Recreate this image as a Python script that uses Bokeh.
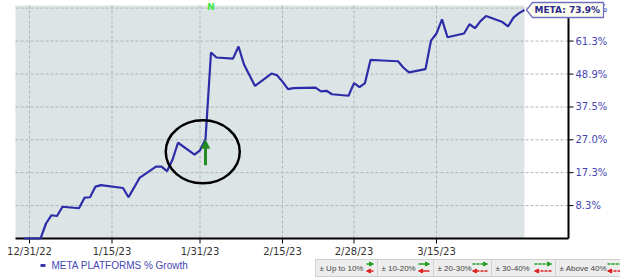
import math
import pandas as pd
from bokeh.plotting import figure
from bokeh.models import Range1d, BoxAnnotation, Arrow, NormalHead, ColumnDataSource
from bokeh.core.properties import value
from bokeh.embed import file_html
from bokeh.resources import INLINE

# ---------------- data ----------------
dates = ["2022-12-30", "2023-01-02", "2023-01-03", "2023-01-04", "2023-01-05", "2023-01-06",
         "2023-01-09", "2023-01-10", "2023-01-11", "2023-01-12", "2023-01-13", "2023-01-17",
         "2023-01-18", "2023-01-19", "2023-01-20", "2023-01-23", "2023-01-24", "2023-01-25",
         "2023-01-26", "2023-01-27", "2023-01-30", "2023-01-31", "2023-02-01", "2023-02-02",
         "2023-02-03", "2023-02-06", "2023-02-07", "2023-02-08", "2023-02-09", "2023-02-10",
         "2023-02-13", "2023-02-14", "2023-02-15", "2023-02-16", "2023-02-17", "2023-02-21",
         "2023-02-22", "2023-02-23", "2023-02-24", "2023-02-27", "2023-02-28", "2023-03-01",
         "2023-03-02", "2023-03-03", "2023-03-06", "2023-03-07", "2023-03-08", "2023-03-09",
         "2023-03-10", "2023-03-13", "2023-03-14", "2023-03-15", "2023-03-16", "2023-03-17",
         "2023-03-20", "2023-03-21", "2023-03-22", "2023-03-23", "2023-03-24", "2023-03-27",
         "2023-03-28", "2023-03-29", "2023-03-30", "2023-03-31"]
growth_pct = [0.0, 0.0, 3.7, 5.8, 5.6, 8.0,
              7.6, 10.4, 10.5, 13.4, 13.8, 13.0,
              10.5, 13.1, 15.8, 19.0, 19.0, 17.7,
              21.0, 26.1, 22.5, 23.8, 27.2, 56.9,
              55.0, 54.6, 59.2, 52.4, 48.5, 44.7,
              49.1, 48.5, 46.2, 43.6, 43.9, 44.1,
              42.8, 43.0, 41.8, 41.3, 45.7, 44.3,
              45.7, 54.1, 53.8, 53.7, 53.6, 51.2,
              49.5, 50.7, 61.5, 64.3, 70.0, 62.8,
              64.3, 68.0, 66.4, 69.3, 71.4, 68.9,
              67.1, 70.7, 72.6, 73.9]

x_tick_dates = ["2022-12-31", "2023-01-15", "2023-01-31", "2023-02-15", "2023-02-28", "2023-03-15"]
x_tick_labels = ["12/31/22", "1/15/23", "1/31/23", "2/15/23", "2/28/23", "3/15/23"]
y_tick_pct = [8.3, 17.3, 27.0, 37.5, 48.9, 61.3, 74.7]
y_tick_labels = ["8.3%", "17.3%", "27.0%", "37.5%", "48.9%", "61.3%", "74.7%"]

series_name = "META PLATFORMS % Growth"
ticker_symbol = "META"
event_date = "2023-02-01"     # earnings arrow
news_date = "2023-02-02"      # "N" marker
band_labels = ["± Up to 10%", "± 10-20%", "± 20-30%", "± 30-40%", "± Above 40%"]

# visible ranges of the whole canvas (x: dates, y: growth %, log of growth factor)
x_start, x_end = "2022-12-25 17:27", "2023-04-17 10:55"
y_lo_pct, y_hi_pct = -9.45, 77.95

# ---------------- layout constants (canvas px) ----------------
W, H = 620, 279
AREA_L, AREA_T, AXIS_R = 15, 5, 568
SANS = value("DejaVu Sans")
ARIAL = value("Liberation Sans")
BOLD = value("bold")


def ms(s):
    return (pd.to_datetime(s) - pd.Timestamp("1970-01-01")) // pd.Timedelta("1ms")


XS, XE = ms(x_start), ms(x_end)
YL, YH = 1 + y_lo_pct / 100, 1 + y_hi_pct / 100
LNL, LNH = math.log(YL), math.log(YH)


def X(cx):           # canvas x -> data x
    return XS + (XE - XS) * cx / W


def Y(cy):           # canvas y -> data y (growth factor)
    return math.exp(LNL + (LNH - LNL) * (H - cy) / H)


def DX(px):
    return (XE - XS) * px / W


def YF(y, px):       # move data y up by px pixels
    return y * math.exp(px * (LNH - LNL) / H)


x_ms = [ms(d) for d in dates]
factor = [1 + g / 100 for g in growth_pct]
src = ColumnDataSource(dict(x=x_ms, y=factor))
xt = [ms(d) for d in x_tick_dates]
yt = [1 + v / 100 for v in y_tick_pct]

p = figure(width=W, height=H, output_backend="svg", toolbar_location=None,
           x_axis_location=None, y_axis_location=None, y_axis_type="log",
           x_range=Range1d(XS, XE), y_range=Range1d(YL, YH), min_border=0)
p.outline_line_color = None
p.background_fill_color = "white"
p.border_fill_color = "white"
p.grid.visible = False

AXIS_X = X(AXIS_R)
AREA_X0 = X(AREA_L)
AREA_TOP = Y(AREA_T)

# shaded data region
p.add_layout(BoxAnnotation(left=AREA_X0, right=x_ms[-1], bottom=1.0, top=AREA_TOP,
                           fill_color="#dce4e6", fill_alpha=1.0, line_color=None, level="image"))

grid_kw = dict(line_color="#b2b6b8", line_dash="3 2", line_width=1)
p.segment(x0=xt, y0=[1.0] * len(xt), x1=xt, y1=[AREA_TOP] * len(xt), **grid_kw)
p.segment(x0=[AREA_X0] * len(yt), y0=yt, x1=[AXIS_X] * len(yt), y1=yt, **grid_kw)

# ticks
p.segment(x0=xt, y0=[1.0] * len(xt), x1=xt, y1=[YF(1.0, -5)] * len(xt),
          line_color="black", line_width=1)
p.segment(x0=[AXIS_X] * len(yt), y0=yt, x1=[AXIS_X + DX(5)] * len(yt), y1=yt,
          line_color="black", line_width=1)

# axis lines
p.segment(x0=[AREA_X0, AXIS_X], y0=[1.0, 1.0], x1=[AXIS_X, AXIS_X], y1=[1.0, AREA_TOP],
          line_color="black", line_width=2)

# tick labels
p.text(x=xt, y=[YF(1.0, -13)] * len(xt), text=x_tick_labels, text_align="center",
       text_baseline="middle", text_font=SANS, text_font_size="10px",
       text_color="#333333")
p.text(x=[AXIS_X + DX(7)] * len(yt), y=yt, text=y_tick_labels, text_align="left",
       text_baseline="middle", text_font=SANS, text_font_size="10px",
       text_color="#4646b2")

# series line
p.line("x", "y", source=src, line_color="#2c2ca8", line_width=2.2)

# earnings arrow and circle
ei = dates.index(event_date)
p.add_layout(Arrow(end=NormalHead(size=8, fill_color="#228b22", line_color="#228b22"),
                   x_start=x_ms[ei], y_start=YF(factor[ei], -26), x_end=x_ms[ei],
                   y_end=YF(factor[ei], -1),
                   line_color="#228b22", line_width=3))
ci = ei - 1
p.ellipse(x=[(x_ms[ci] + x_ms[ei]) / 2], y=[YF(factor[ci], -1.5)], width=74, height=63,
          width_units="screen", height_units="screen",
          fill_color=None, line_color="black", line_width=2.5)

# "N" marker
ni = dates.index(news_date)
p.text(x=[x_ms[ni]], y=[YF(AREA_TOP, -1.5)], text=["N"], text_color="#3ee83e",
       text_font=SANS, text_font_style=BOLD, text_font_size="9px",
       text_align="center", text_baseline="middle")

# last-value callout (tag shape pointing at the last point)
xl, yl = x_ms[-1], factor[-1]
p.patch(x=[xl + DX(2), xl + DX(8), xl + DX(79), xl + DX(79), xl + DX(8)],
        y=[yl, YF(yl, 7.5), YF(yl, 7.5), YF(yl, -7.5), YF(yl, -7.5)],
        fill_color="#fffff0", line_color="#7070c4", line_width=1.3)
p.text(x=[xl + DX(10)], y=[yl], text=[f"{ticker_symbol}: {growth_pct[-1]:.1f}%"],
       text_color="#2b2b8c", text_font=SANS, text_font_style=BOLD,
       text_font_size="9px", text_align="left", text_baseline="middle")

# series legend
p.segment(x0=[X(40)], y0=[Y(265)], x1=[X(45)], y1=[Y(265)], line_color="#3a3ab0", line_width=3)
p.text(x=[X(51)], y=[Y(265)], text=[series_name], text_color="#4646b4",
       text_font=ARIAL, text_font_size="10px", text_baseline="middle")

# bottom range bar
seg_edges = [315, 377, 433, 491, 555, 626]
arrow_len = [7, 11, 15, 17, 17]
p.quad(left=[X(e) for e in seg_edges[:-1]], right=[X(e) for e in seg_edges[1:]],
       top=[Y(259)] * 5, bottom=[Y(276)] * 5,
       fill_color="#ededed", line_color="#d0d0d0", line_width=1)
p.text(x=[X(e + 4) for e in seg_edges[:-1]], y=[Y(267.5)] * 5, text=band_labels,
       text_color="#444444", text_font=ARIAL, text_font_size="8px",
       text_baseline="middle")
for i in range(5):
    ax_end = seg_edges[i + 1] - 4 if i < 4 else 624
    ax0 = ax_end - arrow_len[i]
    dash = "solid" if i < 2 else "3 1"
    p.add_layout(Arrow(end=NormalHead(size=4, fill_color="#22a022", line_color="#22a022"),
                       x_start=X(ax0), y_start=Y(263.5), x_end=X(ax_end), y_end=Y(263.5),
                       line_color="#22a022", line_width=1.5, line_dash=dash))
    p.add_layout(Arrow(end=NormalHead(size=4, fill_color="#dd2222", line_color="#dd2222"),
                       x_start=X(ax_end), y_start=Y(270.5), x_end=X(ax0), y_end=Y(270.5),
                       line_color="#dd2222", line_width=1.5, line_dash=dash))

open("out.html", "w").write(file_html(p, INLINE))
